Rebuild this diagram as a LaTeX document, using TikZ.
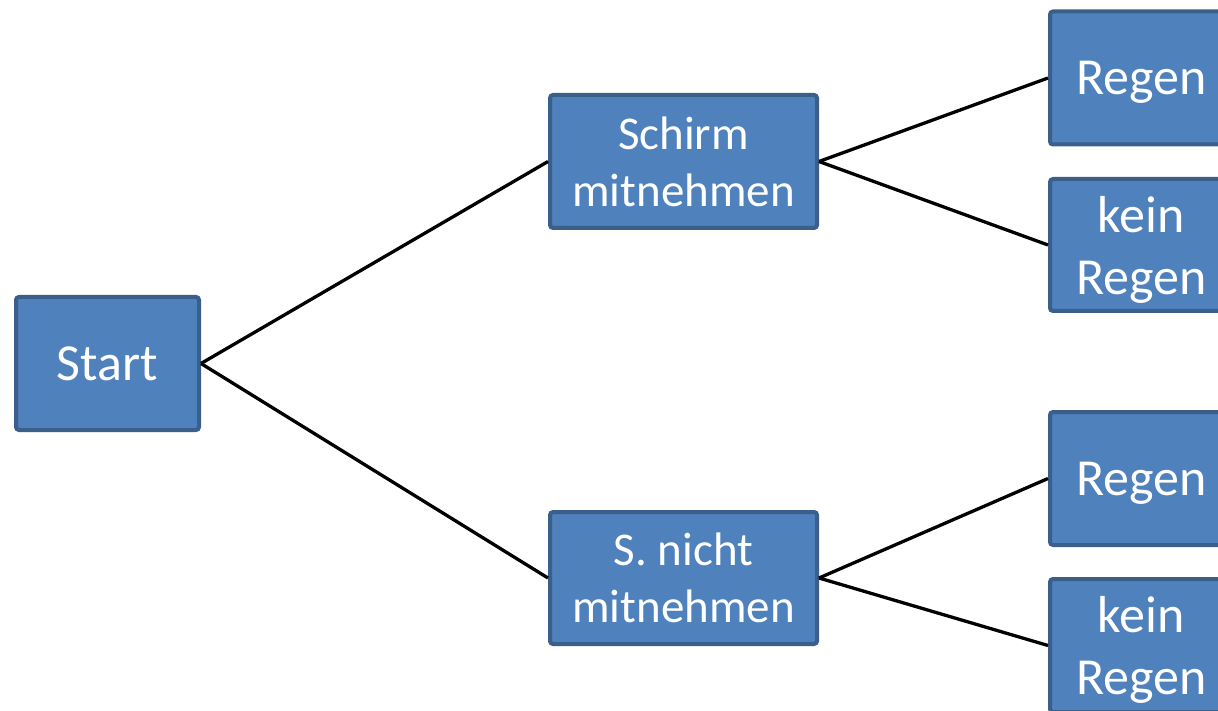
\documentclass[tikz,border=0pt]{standalone}
\usepackage{fontspec}
\setmainfont{Carlito}
\definecolor{boxfill}{HTML}{4F81BD}
\definecolor{boxline}{HTML}{3A5F8B}
\begin{document}
\begin{tikzpicture}[x=1pt,y=-1pt,
  box/.style={draw=boxline,fill=boxfill,line width=4pt,rounded corners=3pt,
    text=white,align=center,inner sep=0pt,
    font=\fontsize{47}{57}\selectfont,text depth=0pt},
  big/.style={font=\fontsize{52}{62}\selectfont},
  one/.style={big,text height=33pt},
  conn/.style={line width=3.3pt,black}]
\clip (0,0) rectangle (1218,711);
\useasboundingbox (0,0) rectangle (1218,711);
\node[box,one,minimum width=183pt,minimum height=133pt] (start) at (107.5,363.5) {Start};
\node[box,minimum width=267pt,minimum height=133pt] (schirm) at (683.5,161.5) {Schirm\\mitnehmen};
\node[box,minimum width=267pt,minimum height=132pt] (nicht) at (683.5,578) {S. nicht\\mitnehmen};
\node[box,one,minimum width=183pt,minimum height=133pt] (r1) at (1141.5,78) {Regen};
\node[box,big,minimum width=183pt,minimum height=132pt] (k1) at (1141.5,245) {kein\\Regen};
\node[box,one,minimum width=183pt,minimum height=133pt] (r2) at (1141.5,478.5) {Regen};
\node[box,big,minimum width=183pt,minimum height=133pt] (k2) at (1141.5,645.5) {kein\\Regen};
\draw[conn] (start.east) -- (schirm.west);
\draw[conn] (start.east) -- (nicht.west);
\draw[conn] (schirm.east) -- (r1.west);
\draw[conn] (schirm.east) -- (k1.west);
\draw[conn] (nicht.east) -- (r2.west);
\draw[conn] (nicht.east) -- (k2.west);
\end{tikzpicture}
\end{document}
